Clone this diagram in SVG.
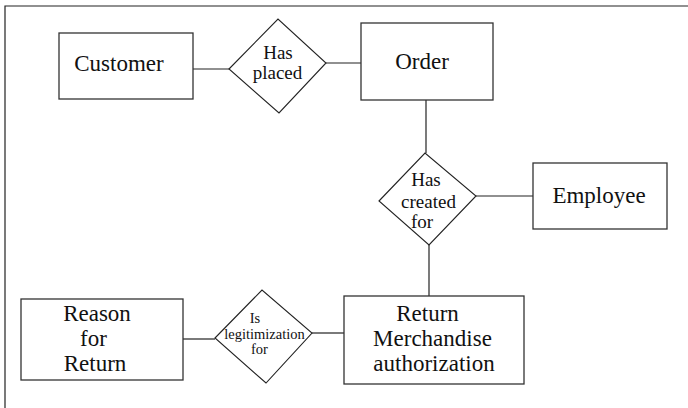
<svg xmlns="http://www.w3.org/2000/svg" width="688" height="408" viewBox="0 0 688 408" font-family="Liberation Serif, Times New Roman, serif">
<style>
.box{fill:#fff;stroke:#333;stroke-width:1.3}
.dia{fill:#fff;stroke:#222;stroke-width:1.1}
.ln{stroke:#222;stroke-width:1.2;fill:none}
text{font-family:'Liberation Serif','Times New Roman',serif;fill:#111;text-anchor:middle}
.e{font-size:23px}
.r{font-size:19px}
.s{font-size:14.5px}
</style>
<rect width="688" height="408" fill="#fff"/>
<path class="ln" d="M5,408 V6 H688"/>
<g id="connectors">
<line class="ln" x1="193" y1="69" x2="229" y2="69"/>
<line class="ln" x1="326" y1="63" x2="361" y2="63"/>
<line class="ln" x1="426" y1="100" x2="426" y2="153"/>
<line class="ln" x1="476" y1="196" x2="533" y2="196"/>
<line class="ln" x1="429" y1="245" x2="429" y2="296"/>
<line class="ln" x1="183" y1="339" x2="215" y2="339"/>
<line class="ln" x1="312" y1="333" x2="344" y2="333"/>
</g>
<g id="customer">
<rect class="box" x="59" y="33" width="134" height="66"/>
<text class="e" x="119" y="71" font-family="Liberation Serif, serif">Customer</text>
</g>
<g id="has-placed">
<polygon class="dia" points="229,69 278,19 326,63 279,113"/>
<text class="r" x="278" y="59">Has</text>
<text class="r" x="277.5" y="79">placed</text>
</g>
<g id="order">
<rect class="box" x="361" y="23" width="132" height="77"/>
<text class="e" x="422" y="69">Order</text>
</g>
<g id="has-created-for">
<polygon class="dia" points="379,201 425,153 476,196 429,245"/>
<text class="r" x="426" y="186">Has</text>
<text class="r" x="428.5" y="207.5">created</text>
<text class="r" x="422" y="227.5">for</text>
</g>
<g id="employee">
<rect class="box" x="533" y="163" width="134" height="66"/>
<text class="e" x="599" y="203">Employee</text>
</g>
<g id="reason-for-return">
<rect class="box" x="21" y="299" width="162" height="81"/>
<text class="e" x="97" y="321">Reason</text>
<text class="e" x="93.5" y="346">for</text>
<text class="e" x="95" y="371">Return</text>
</g>
<g id="is-legitimization-for">
<polygon class="dia" points="215,338 262,290 312,333 266,383"/>
<text class="s" x="255" y="323">Is</text>
<text class="s" x="264.5" y="339">legitimization</text>
<text class="s" x="259.5" y="353.5">for</text>
</g>
<g id="return-merchandise-authorization">
<rect class="box" x="344" y="296" width="180" height="88"/>
<text class="e" x="427.5" y="321">Return</text>
<text class="e" x="432.5" y="345.5">Merchandise</text>
<text class="e" x="434" y="371">authorization</text>
</g>
</svg>
